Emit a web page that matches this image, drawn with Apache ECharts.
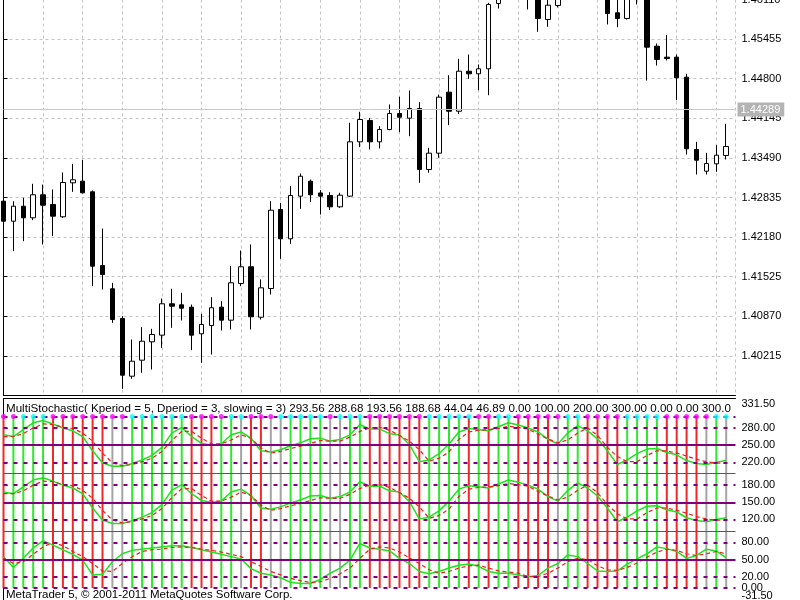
<!DOCTYPE html>
<html><head><meta charset="utf-8">
<script src="https://cdn.jsdelivr.net/npm/echarts@6/dist/echarts.min.js"></script>
<style>html,body{margin:0;padding:0;background:#fff;overflow:hidden}#c{width:800px;height:600px}</style>
</head><body><div id="c"></div>
<script>
// ---------- price data ----------
const opens  = [1.42774,1.42443,1.42691,1.42499,1.42880,1.42719,1.42516,1.43078,1.43105,1.42929,
1.41710,1.41325,1.40834,1.39879,1.40144,1.40448,1.40558,1.41077,1.41060,1.41021,
1.40581,1.40718,1.41021,1.40806,1.41413,1.41689,1.40855,1.41330,1.42637,1.42152,
1.42857,1.43105,1.42910,1.42868,1.42681,1.42857,1.43756,1.44109,1.43756,1.43960,
1.44224,1.44147,1.44307,1.43298,1.43568,1.44577,1.44262,1.44924,1.44881,1.44964,
1.46044,1.46220,1.46350,1.46320,1.46250,1.45779,1.46011,1.46200,1.46400,1.46360,
1.46500,1.46340,1.45890,1.45796,1.46380,1.46260,1.45338,1.45156,1.45156,1.44825,
1.43629,1.43270,1.43392,1.43530];
const closes = [1.42443,1.42691,1.42499,1.42880,1.42708,1.42526,1.43083,1.43128,1.42913,1.41699,
1.41561,1.40817,1.39896,1.40127,1.40458,1.40569,1.41077,1.41037,1.41004,1.40558,
1.40735,1.41011,1.40806,1.41424,1.41689,1.40862,1.41341,1.42625,1.42152,1.42868,
1.43187,1.42880,1.42857,1.42681,1.42873,1.43756,1.44125,1.43756,1.43960,1.44224,
1.44163,1.44307,1.43298,1.43568,1.44494,1.44262,1.44924,1.44881,1.44964,1.46027,
1.46220,1.46350,1.46280,1.46180,1.45796,1.46016,1.46200,1.46400,1.46360,1.46500,
1.46340,1.45878,1.45796,1.46250,1.46280,1.45321,1.45118,1.45134,1.44815,1.43641,
1.43452,1.43397,1.43535,1.43679];
const lows   = [1.42405,1.41947,1.42112,1.42460,1.42058,1.42195,1.42499,1.42929,1.42901,1.41368,
1.41313,1.40763,1.39671,1.39836,1.39936,1.39990,1.40349,1.40680,1.40801,1.40309,
1.40101,1.40238,1.40635,1.40652,1.41368,1.40652,1.40817,1.41231,1.41821,1.42069,
1.42648,1.42757,1.42554,1.42625,1.42665,1.42843,1.43667,1.43629,1.43646,1.43948,
1.43915,1.43849,1.43078,1.43244,1.43492,1.44031,1.44219,1.44798,1.44610,1.44527,
1.45961,1.46150,1.46160,1.45945,1.45576,1.45658,1.45978,1.46140,1.46250,1.46280,
1.46220,1.45697,1.45652,1.45779,1.46027,1.44770,1.45018,1.45101,1.44444,1.43546,
1.43216,1.43216,1.43260,1.43464];
const highs  = [1.42819,1.42774,1.42830,1.43062,1.43050,1.42967,1.43249,1.43392,1.43459,1.42951,
1.42322,1.41424,1.40872,1.40486,1.40690,1.40663,1.41165,1.41325,1.41259,1.41065,
1.40912,1.41186,1.41120,1.41699,1.41958,1.42058,1.41479,1.42774,1.42747,1.43022,
1.43232,1.43133,1.42956,1.42923,1.42913,1.44071,1.44253,1.44153,1.44014,1.44373,
1.44501,1.44605,1.44411,1.43657,1.44539,1.44858,1.45129,1.45200,1.45035,1.46055,
1.46300,1.46480,1.46500,1.46450,1.46320,1.46140,1.46280,1.46520,1.46580,1.46620,
1.46600,1.46400,1.46120,1.46350,1.46450,1.46320,1.45382,1.45520,1.45200,1.44881,
1.43756,1.43574,1.43700,1.44054];
const priceLine = 1.44289;
const priceMin = 1.39560, priceMax = 1.46110, priceStep = 0.00655;

// ---------- MultiStochastic data ----------
const topMain = [268,265,277,289,293,287,280,275,265,240,219,213,213,218,224,232,246,271,281,265,
253,250,252,268,273,262,240,238,242,249,254,261,262,257,260,268,286,278,278,270,
268,251,221,224,235,252,273,279,277,275,282,289,285,280,273,260,252,271,284,275,
261,240,216,224,235,243,244,237,233,223,218,216,220,223];
const topSignal = [265,265,270,280,287,286,281,279,271,257,236,219,214,216,221,227,239,258,274,274,
262,252,252,259,268,262,245,236,239,244,248,253,258,257,257,264,274,280,281,276,
267,257,242,222,227,238,260,273,276,277,279,283,281,278,269,261,254,259,271,280,
267,246,230,221,221,232,240,240,236,231,225,221,219,218];
const midMain = [168,165,177,189,193,187,180,175,165,140,119,113,113,118,124,132,146,171,181,165,
153,150,152,168,173,162,140,138,142,149,154,161,162,157,160,168,186,178,178,170,
168,151,121,124,135,152,173,179,177,175,182,189,185,180,173,160,152,171,184,175,
161,140,116,124,135,143,144,137,133,123,118,116,120,123];
const midSignal = [165,165,170,180,187,186,181,179,171,157,136,119,114,116,121,127,139,158,174,174,
162,152,152,159,168,162,145,136,139,144,148,153,158,157,157,164,174,180,181,176,
167,157,142,122,127,138,160,173,176,177,179,183,181,178,169,161,154,159,171,180,
167,146,130,121,121,132,140,140,136,131,125,121,119,118];
const botMain = [55,36,52,70,83,75,67,59,49,23,24,46,60,66,68,70,72,74,74,71,
67,63,59,55,51,34,26,23,18,10,8,8,15,26,35,49,78,70,68,65,
52,43,29,25,29,35,40,42,38,29,26,26,23,20,22,35,43,58,55,43,
30,29,30,42,51,60,72,69,64,52,57,68,65,53];
const botSignal = [52,43,46,59,72,80,74,64,55,43,30,29,43,55,64,67,68,71,72,71,
68,66,63,59,55,46,38,29,23,17,13,10,11,17,25,35,52,68,72,70,
63,53,43,32,26,29,35,39,40,35,30,28,26,20,20,26,35,46,52,50,
39,32,31,36,44,54,63,68,66,60,57,60,64,60];
// histogram colour per bar: g = up, r = down, n = neutral
const histState = ['r','g','g','g','g','r','r','r','r','r','r','n','n','g','g','g','g','g','g','r',
'r','r','g','g','n','r','r','n','n','g','g','g','g','n','n','g','g','r','r','r',
'r','r','r','g','g','g','g','r','g','r','g','g','r','r','r','r','n','g','g','r',
'r','r','r','g','g','g','g','r','r','r','r','n','g','n'];
// arrow dot colour per bar: c = cyan, m = magenta
const dotState = ['m','m','c','c','c','m','m','m','m','m','m','m','m','c','c','c','c','c','c','m',
'm','m','m','c','c','m','m','m','c','c','c','c','c','m','c','c','c','m','m','m',
'm','m','m','c','c','c','c','c','m','m','c','c','m','m','m','m','m','c','c','m',
'm','m','m','c','c','c','c','m','m','m','m','m','c','c'];
const histLow = 0, histHigh = 300;
const levelsDashed = [0, 20, 80, 120, 180, 220, 280, 300];
const levelsBold = [50, 150, 250];
const levelsThin = [100, 200];
const indMin = -31.5, indMax = 331.5;
const indLabels = [331.5, 280, 250, 220, 180, 150, 120, 80, 50, 20, 0];
const indLabelsLow = [-31.5];
const titleText = 'MultiStochastic( Kperiod = 5, Dperiod = 3, slowing = 3) 293.56 288.68 193.56 188.68 44.04 46.89 0.00 100.00 200.00 300.00 0.00 0.00 300.00';
const copyText = 'MetaTrader 5, \u00a9 2001-2011 MetaQuotes Software Corp.';

// ---------- chart ----------
const FONT = "'Liberation Sans', Arial, sans-serif";
const XMAX = 73.94;
const chart = echarts.init(document.getElementById('c'), null, {renderer: 'canvas'});
const candleData = opens.map((o, i) => [i, o, closes[i], lows[i], highs[i]]);
const histColors = {g: '#2ee82e', r: '#f02828', n: '#a4a4a4'};
const dotColors = {c: '#00ffff', m: '#ff00ff'};
const lvlColor = '#800080';
const lvl = [];
levelsDashed.forEach(v => lvl.push({yAxis: v, lineStyle: {color: lvlColor, width: 2, type: [4, 6]}}));
levelsBold.forEach(v => lvl.push({yAxis: v, lineStyle: {color: lvlColor, width: 2, type: 'solid'}}));
levelsThin.forEach(v => lvl.push({yAxis: v, lineStyle: {color: '#a020c0', width: 1, type: 'solid'}}));

const axisTxt = {color: '#000', fontSize: 11, fontFamily: FONT};
const option = {
  animation: false,
  backgroundColor: '#fff',
  title: [
    {text: titleText, left: 6, top: 403, padding: 0,
     textStyle: {color: '#000', fontSize: 11.6, fontWeight: 'normal', fontFamily: FONT,
       width: 729, overflow: 'truncate', ellipsis: ''}},
    {text: copyText, left: 6, top: 589, padding: 0,
     textStyle: {color: '#000', fontSize: 11.5, fontWeight: 'normal', fontFamily: FONT}}
  ],
  grid: [
    {left: 3.5, top: -0.5, width: 732, height: 396, containLabel: false, outerBoundsMode: 'none'},
    {left: 3.5, top: 398.5, width: 732, height: 207.6, containLabel: false, outerBoundsMode: 'none'}
  ],
  xAxis: [
    {type: 'value', gridIndex: 0, min: 0, max: XMAX, interval: 4, position: 'bottom',
     axisLine: {show: true, onZero: false, lineStyle: {color: '#000', width: 1}},
     axisTick: {show: false}, axisLabel: {show: false},
     splitLine: {show: true, lineStyle: {color: '#c4c4c4', width: 1, type: [3, 3]}}},
    {type: 'value', gridIndex: 1, min: 0, max: XMAX, interval: 4, position: 'top',
     axisLine: {show: true, onZero: false, lineStyle: {color: '#000', width: 1}},
     axisTick: {show: false}, axisLabel: {show: false}, splitLine: {show: false}}
  ],
  yAxis: [
    {type: 'value', gridIndex: 0, position: 'right', min: priceMin, max: priceMax, interval: priceStep,
     axisLine: {show: true, lineStyle: {color: '#000'}},
     axisTick: {show: true, inside: false, length: 4, lineStyle: {color: '#000'}},
     axisLabel: Object.assign({margin: 6, showMinLabel: false, formatter: v => v.toFixed(5)}, axisTxt),
     splitLine: {show: true, lineStyle: {color: '#c4c4c4', width: 1, type: [3, 3]}}},
    {type: 'value', gridIndex: 0, position: 'left', min: priceMin, max: priceMax,
     axisLine: {show: true, lineStyle: {color: '#000'}}, axisTick: {show: false},
     axisLabel: {show: false}, splitLine: {show: false}},
    {type: 'value', gridIndex: 1, position: 'right', min: indMin, max: indMax,
     axisLine: {show: true, lineStyle: {color: '#000'}},
     axisTick: {show: true, length: 4, customValues: indLabels, lineStyle: {color: '#000'}},
     axisLabel: Object.assign({margin: 6, customValues: indLabels, showMinLabel: true, showMaxLabel: true,
       lineHeight: 10, hideOverlap: false,
       formatter: v => v === indMax ? '\n' + v.toFixed(2) : v.toFixed(2)}, axisTxt),
     splitLine: {show: false}},
    {type: 'value', gridIndex: 1, position: 'left', min: indMin, max: indMax,
     axisLine: {show: true, lineStyle: {color: '#000'}}, axisTick: {show: false},
     axisLabel: {show: false}, splitLine: {show: false}},
    {type: 'value', gridIndex: 1, position: 'right', min: indMin, max: indMax,
     axisLine: {show: false}, axisTick: {show: false},
     axisLabel: Object.assign({margin: 6, customValues: indLabelsLow, showMinLabel: true, lineHeight: 10,
       formatter: v => v.toFixed(2) + '\n\n'}, axisTxt),
     splitLine: {show: false}}
  ],
  series: [
    {type: 'candlestick', xAxisIndex: 0, yAxisIndex: 0, data: candleData, barWidth: 5, clip: true,
     itemStyle: {color: '#ffffff', color0: '#000000', borderColor: '#000000', borderColor0: '#000000', borderWidth: 1},
     z: 3,
     markLine: {silent: true, symbol: 'none', animation: false, precision: 5,
       lineStyle: {color: '#c8c8c8', width: 1, type: 'solid'},
       label: {show: true, position: 'end', distance: 2, formatter: () => priceLine.toFixed(5),
         color: '#fff', backgroundColor: '#b4b4b4', padding: [2, 4, 1, 3], fontSize: 11, fontFamily: FONT},
       data: [{yAxis: priceLine}]}},
    {type: 'line', xAxisIndex: 1, yAxisIndex: 2, data: [], z: 1,
     markLine: {silent: true, symbol: 'none', animation: false, precision: 2, label: {show: false}, data: lvl}},
    {type: 'bar', xAxisIndex: 1, yAxisIndex: 2, barWidth: 2, z: 2,
     data: histState.map((s, i) => ({value: [i, histHigh], itemStyle: {color: histColors[s]}}))},
    {type: 'line', xAxisIndex: 1, yAxisIndex: 2, data: topMain.map((v, i) => [i, v]), symbol: 'none', z: 4,
     lineStyle: {color: '#20e020', width: 1.5}},
    {type: 'line', xAxisIndex: 1, yAxisIndex: 2, data: topSignal.map((v, i) => [i, v]), symbol: 'none', z: 4,
     lineStyle: {color: '#e82020', width: 1.2, type: [4, 3]}},
    {type: 'line', xAxisIndex: 1, yAxisIndex: 2, data: midMain.map((v, i) => [i, v]), symbol: 'none', z: 4,
     lineStyle: {color: '#20e020', width: 1.5}},
    {type: 'line', xAxisIndex: 1, yAxisIndex: 2, data: midSignal.map((v, i) => [i, v]), symbol: 'none', z: 4,
     lineStyle: {color: '#e82020', width: 1.2, type: [4, 3]}},
    {type: 'line', xAxisIndex: 1, yAxisIndex: 2, data: botMain.map((v, i) => [i, v]), symbol: 'none', z: 4,
     lineStyle: {color: '#20e020', width: 1.5}},
    {type: 'line', xAxisIndex: 1, yAxisIndex: 2, data: botSignal.map((v, i) => [i, v]), symbol: 'none', z: 4,
     lineStyle: {color: '#e82020', width: 1.2, type: [4, 3]}},
    {type: 'scatter', xAxisIndex: 1, yAxisIndex: 2, symbol: 'circle', symbolSize: 5, z: 5,
     data: dotState.map((s, i) => ({value: [i, histHigh], itemStyle: {color: dotColors[s]}}))}
  ]
};
chart.setOption(option);
</script>
</body></html>
